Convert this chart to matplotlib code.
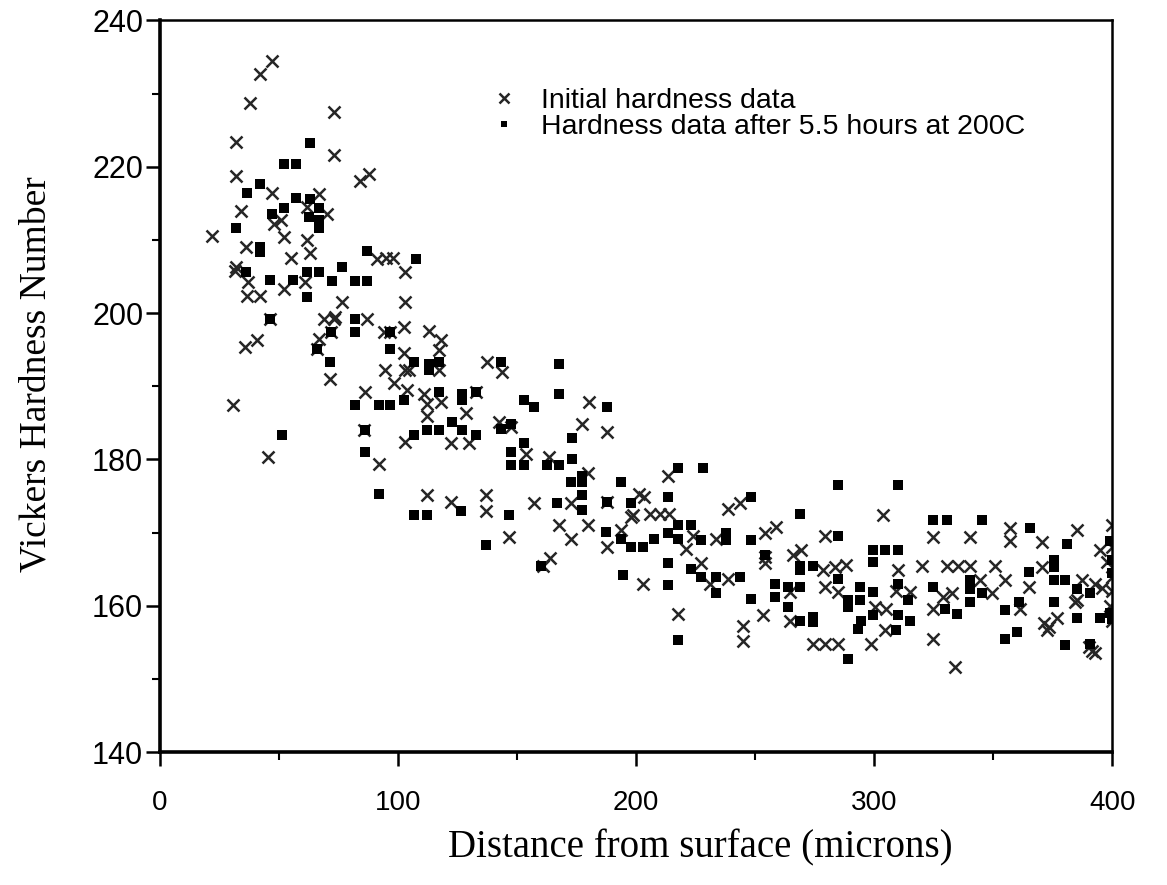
import matplotlib
matplotlib.use("Agg")
import matplotlib.pyplot as plt
from matplotlib.ticker import MultipleLocator
import numpy as np

# Initial hardness data (distance in microns, Vickers hardness)
init_x = [47, 42, 38, 73, 32, 73, 32, 84, 88, 47, 67, 34, 51, 48, 70, 62, 22, 36, 52, 62, 55, 95, 63, 98, 32,
          31.6, 37.2, 61, 52, 36.5, 42, 76.5, 103, 103, 69, 73, 87, 102.5, 94, 66.7, 35.8, 40.7, 102.5, 94.7,
          98.2, 103, 71.6, 86.3, 30.9, 104, 103, 92, 45.6, 46.3, 72, 66, 85.6, 96.8, 73.7, 91.2, 113, 117.9,
          117.2, 104.6, 117.2, 137.5, 143.9, 110.9, 112.3, 117.9, 112.3, 128.4, 142.5, 147.4, 122.1, 129.8,
          153.7, 163.5, 180.4, 177.5, 188, 179.7, 112.3, 122.1, 136.8, 136.8, 157.2, 172.6, 167.7, 172.6,
          179.7, 146.7, 197.9, 193.7, 201.4, 188, 132.6, 188, 161, 164,
          213.3, 203.5, 198.6, 206, 210, 214, 223.9, 221.1, 238.6, 243.5, 233.7, 254, 259, 254, 227.4, 230.9,
          238.6, 202.8, 217.6, 244.9, 244.9, 253.3, 264.6, 266, 269.5, 279.3, 278.6, 283.5, 288.4, 279.3,
          264.6, 274.4, 279.3, 284.9, 284.9, 254,
          303.8, 324.9, 340.3, 357.2, 357.2, 370.5, 385.2, 395.1, 310.1, 320, 330.5, 335.4, 340.3, 350.8,
          344.5, 355, 370.5, 364.9, 387.3, 393, 332.6, 329.1, 349.4, 309.4, 315, 300.3, 305.2, 324.9, 361.4,
          371.2, 376.8, 372.6, 385.2, 304.5, 298.9, 324.9, 334, 391.5, 395.8, 384.5, 373.3, 390.1, 393,
          400, 400, 398, 400, 400, 399, 400]
init_y = [234.5, 232.7, 228.7, 227.5, 223.4, 221.6, 218.7, 218, 219, 216.4, 216.3, 214, 212.7, 212.2, 213.6,
          214.5, 210.5, 209, 210.4, 210, 207.5, 207.5, 208.2, 207.5, 206.3,
          205.8, 204.3, 204.3, 203.3, 202.4, 202.4, 201.5, 205.6, 201.5, 199.2, 199.2, 199.2, 198.1, 197.4,
          196.5, 195.4, 196.3, 194.5, 192.2, 190.4, 192.2, 191, 189.2, 187.5, 189.5, 182.4, 179.4, 180.3,
          199.2, 197.4, 195.1, 184, 197.4, 199.5, 207.4, 197.6, 196.3,
          194.9, 192.2, 192.2, 193.3, 192, 189, 187.6, 187.9, 186, 186.3, 185.1, 184.4, 182.2, 182.2,
          180.8, 180.4, 187.9, 184.9, 183.8, 178.1, 175.1, 174.2, 175.1, 173, 174, 174, 171, 169.2,
          171, 169.4, 172.2, 170.3, 175.3, 168, 189.2, 174.2, 165.5, 166.5,
          177.8, 174.9, 172.4, 172.6, 172.6, 172.6, 169.6, 167.8, 173.3, 174, 169.2, 169.9, 170.8, 165.8,
          165.8, 163, 163.7, 163, 158.9, 155.2, 157.2, 158.7, 158, 166.9, 167.6, 169.6, 164.9, 165.3, 165.6,
          162.6, 161.9, 154.8, 154.8, 154.8, 161.9, 166.7,
          172.4, 169.4, 169.4, 170.6, 168.9, 168.7, 170.3, 167.6, 164.9, 165.5, 165.5, 165.5, 165.5, 165.5,
          163.5, 163.5, 165.3, 162.6, 163.5, 163, 161.7, 161.2, 161.7, 162.1, 161.9, 159.9, 159.6, 159.6,
          159.6, 157.6, 158.3, 156.7, 160.8, 156.7, 154.8, 155.5, 151.7, 153.9, 162.4, 160.5, 157.1, 154.4,
          153.5, 171, 168, 166, 164, 162, 160, 158]

# Hardness data after 5.5 hours at 200C
after_x = [63, 52, 57, 42, 36.5, 57, 63, 52, 67, 47, 62.5, 67, 32, 67, 42, 42, 87, 76.5,
           36.2, 46.3, 56.1, 61.8, 66.7, 72.3, 82.1, 87, 61.8, 46.3, 82.1, 82.1, 96.8, 72, 66, 96.8, 71.6,
           102.5, 82.1, 92, 96.8, 51.2, 86.3, 86.3, 92, 107.4,
           106.7, 113, 113, 117.2, 143.2, 167.7, 117.2, 127, 127, 132.6, 167.7, 153, 157.2, 188, 122.8, 127,
           132.6, 106.7, 112.3, 117.2, 143.2, 147.4, 153, 147.4, 173.3, 173.3, 147.4, 153, 162.8, 167.7,
           172.6, 177.5, 177.5, 177.5, 177.5, 188, 193.7, 197.9, 167, 106.7, 112.3, 126.3, 146.7, 136.8,
           187.4, 193.7, 197.9, 160,
           217.6, 228.1, 213.3, 248.4, 284.9, 268.8, 217.6, 223.2, 213.3, 207.7, 202.8, 217.6, 227.4, 237.9,
           237.9, 248.4, 284.9, 213.3, 223.2, 227.4, 233.7, 233.7, 243.5, 254, 268.8, 268.8, 274.4, 284.9,
           258.3, 258.3, 263.9, 268.8, 263.9, 294, 289.1, 289.1, 294, 274.4, 274.4, 268.8, 293.3, 248.4,
           194.4, 213.3, 217.6, 289.1,
           310.1, 324.9, 330.5, 345.2, 365.6, 381, 299.6, 304.5, 310.1, 299.6, 375.4, 375.4, 364.9, 310.1,
           324.9, 340.3, 340.3, 345.2, 375.4, 380.3, 385.2, 390.9, 299.6, 314.3, 360.7, 340.3, 375.4, 329.8,
           334.7, 355, 299.6, 310.1, 315, 385.2, 395.1, 360, 355, 380.3, 390.8, 309.4, 294.7,
           399, 400, 400, 399, 400]
after_y = [223.3, 220.4, 220.4, 217.6, 216.4, 215.7, 215.6, 214.4, 214.4, 213.5, 213.2, 212.7, 211.6, 211.6,
           209, 208.4, 208.5, 206.3,
           205.6, 204.5, 204.5, 205.6, 205.6, 204.4, 204.4, 204.4, 202.2, 199.2, 199.2, 197.4, 197.4, 197.4,
           195.1, 195.1, 193.3, 188.1, 187.4, 187.4, 187.4, 183.4, 184, 181, 175.3, 207.4,
           193.3, 193.1, 192.2, 193.3, 193.3, 193.1, 189.2, 189, 188.1, 189.2, 189, 188.1, 187.2, 187.2, 185.1,
           184, 183.3, 183.3, 184, 184, 184.2, 184.9, 182.2, 181, 183, 180.1, 179.2, 179.2, 179.2, 179.2,
           176.9, 177.8, 176.9, 175.1, 173.1, 174.2, 176.9, 174, 174, 172.4, 172.4, 173, 172.4, 168.3,
           170.1, 169.2, 168.1, 165.5,
           178.9, 178.9, 174.9, 174.9, 176.5, 172.6, 171, 171, 169.9, 169.1, 168, 169.1, 169, 169.9,
           169, 169, 169.6, 165.8, 165.1, 164, 164, 161.7, 164, 166.9, 165.5, 164.9, 165.5, 163.7,
           163, 161.2, 162.6, 162.6, 159.9, 162.6, 160.8, 159.9, 160.8, 158.5, 157.8, 158, 156.9, 161,
           164.2, 162.8, 155.3, 152.8,
           176.5, 171.7, 171.7, 171.7, 170.6, 168.5, 167.6, 167.6, 167.6, 166, 166.2, 165.3, 164.6, 163,
           162.6, 163.5, 162.3, 161.7, 163.5, 163.5, 162.3, 161.7, 161.9, 160.8, 160.5, 160.5, 160.5, 159.6,
           158.9, 159.4, 158.7, 158.7, 158, 158.3, 158.3, 156.4, 155.5, 154.6, 154.8, 156.7, 158,
           168.8, 166.2, 164.5, 159, 158.2]

legend_labels = ["Initial hardness data", "Hardness data after 5.5 hours at 200C"]
x_ticks = [0, 100, 200, 300, 400]
y_ticks = [140, 160, 180, 200, 220, 240]

fig = plt.figure(figsize=(11.67, 8.85), dpi=100)
ax = fig.add_axes([0.137, 0.150, 0.816, 0.827])

ax.plot(init_x, init_y, linestyle="none", marker="x", markersize=9, markeredgewidth=1.8,
        color="#262626", label=legend_labels[0])
ax.plot(after_x, after_y, linestyle="none", marker="s", markersize=6.5,
        color="black", markeredgewidth=0, label=legend_labels[1])

ax.set_xlim(0, 400)
ax.set_ylim(140, 240)
ax.set_xticks(x_ticks)
ax.set_yticks(y_ticks)
ax.xaxis.set_minor_locator(MultipleLocator(50))
ax.yaxis.set_minor_locator(MultipleLocator(10))
ax.tick_params(which="major", direction="out", length=10, width=1.8)
ax.tick_params(which="minor", direction="out", length=6, width=1.5)
ax.tick_params(axis="y", which="major", labelsize=22, pad=2)
ax.tick_params(axis="x", which="major", labelsize=20, pad=17)
for lab in ax.get_xticklabels() + ax.get_yticklabels():
    lab.set_family("Liberation Sans")
for name, sp in ax.spines.items():
    sp.set_linewidth(2.6 if name in ("left", "bottom") else 1.8)

fig.text(700 / 1167, 1 - 848 / 885, "Distance from surface (microns)", family="Liberation Serif",
         fontsize=28, ha="center", va="center")
fig.text(36 / 1167, 1 - 374 / 885, "Vickers Hardness Number", family="Liberation Serif",
         fontsize=27, ha="center", va="center", rotation=90)

leg = ax.legend(loc="upper left", bbox_to_anchor=(0.34, 0.923), frameon=False,
                prop={"family": "Liberation Sans", "size": 20.5}, handlelength=0.6,
                handletextpad=1.0, labelspacing=0.0, markerscale=0.75, borderaxespad=0)

fig.savefig("out.png", dpi=100, facecolor="white")
